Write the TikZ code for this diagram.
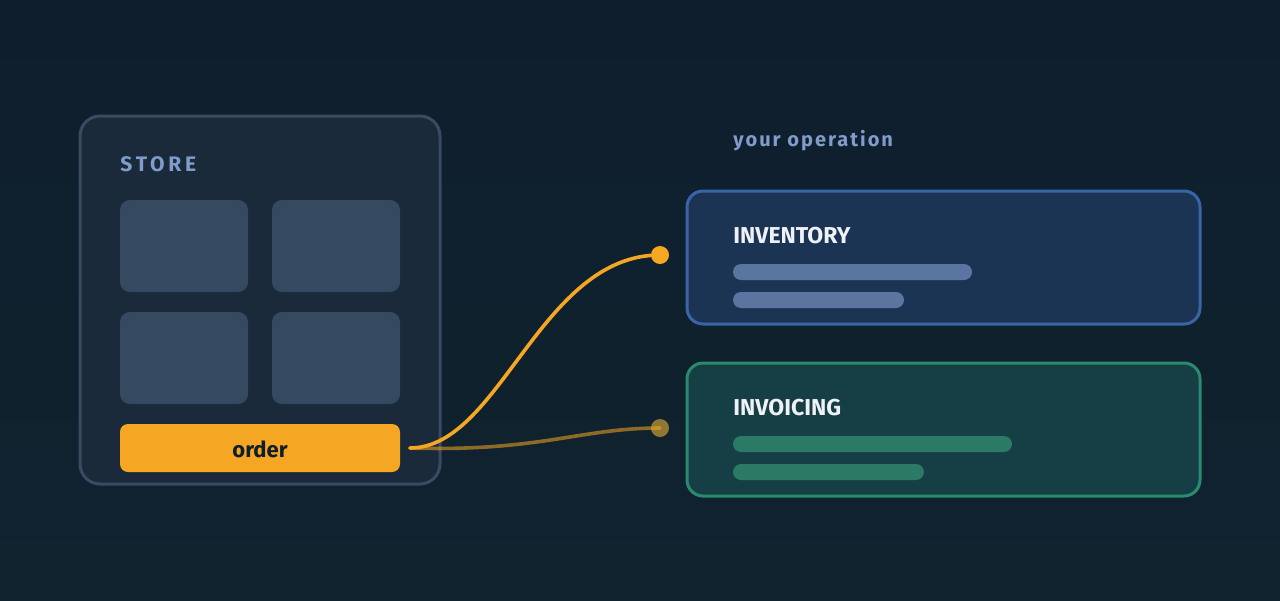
\documentclass[tikz,border=0pt]{standalone}
\usepackage{fontspec}
\setmainfont{Fira Sans}
\newfontfamily\spaced[LetterSpace=18]{Fira Sans}
\newfontfamily\spacedb[LetterSpace=10]{Fira Sans}
\usetikzlibrary{shadings}
\definecolor{bgA}{HTML}{0F1E2D}
\definecolor{bgB}{HTML}{10232F}
\definecolor{storeF}{HTML}{1B2A3A}
\definecolor{storeD}{HTML}{3A4A62}
\definecolor{tile}{HTML}{354960}
\definecolor{orng}{HTML}{F5A623}
\definecolor{invF}{HTML}{1C3454}
\definecolor{invD}{HTML}{3A64A8}
\definecolor{invBar}{HTML}{5A76A0}
\definecolor{bilF}{HTML}{163F45}
\definecolor{bilD}{HTML}{2A8A6E}
\definecolor{bilBar}{HTML}{2A7A66}
\definecolor{lbl}{HTML}{7F9CCB}
\definecolor{ttl}{HTML}{EEF2F6}
\tikzset{
 tilebox/.style={fill=tile,rounded corners=5pt,draw=none},
 panel/.style={rounded corners=8pt,line width=1.5pt},
 bar/.style={rounded corners=4pt,draw=none},
 ttlt/.style={anchor=west,text=ttl,font=\bfseries\fontsize{11.5}{13}\selectfont,inner sep=0},
 dot/.style={circle,inner sep=0,minimum size=9pt},
}
\begin{document}
\begin{tikzpicture}[x=0.5pt,y=-0.5pt]
\shade[top color=bgA,bottom color=bgB] (0,0) rectangle (1280,600);
\useasboundingbox (0,0) rectangle (1280,600);
% store
\draw[panel,fill=storeF,draw=storeD,rounded corners=10pt] (80,116) rectangle (440,484);
\node[anchor=west,text=lbl,inner sep=0,font=\spaced\bfseries\fontsize{10.5}{12}\selectfont] (store) at (120,164) {STORE};
\fill[tilebox] (120,200) rectangle (248,292);
\fill[tilebox] (272,200) rectangle (400,292);
\fill[tilebox] (120,312) rectangle (248,404);
\fill[tilebox] (272,312) rectangle (400,404);
\fill[orng,rounded corners=4pt] (120,424) rectangle (400,472);
\node[text=bgA,font=\bfseries\fontsize{11}{12}\selectfont] (order) at (260,449) {order};
\coordinate (src) at (410,448);
% operation
\node[anchor=west,text=lbl,inner sep=0,font=\spacedb\bfseries\fontsize{10}{12}\selectfont] (op) at (733,141) {your operation};
\draw[panel,fill=invF,draw=invD] (687,191) rectangle (1200,324);
\node[ttlt] (inv) at (733,236) {INVENTORY};
\fill[bar,invBar] (733,264) rectangle (972,280);
\fill[bar,invBar] (733,292) rectangle (904,308);
\draw[panel,fill=bilF,draw=bilD] (687,363) rectangle (1200,496);
\node[ttlt] (bil) at (733,408) {INVOICING};
\fill[bar,bilBar] (733,436) rectangle (1012,452);
\fill[bar,bilBar] (733,464) rectangle (924,480);
% connectors
\node[dot,fill=orng] (d1) at (660,255) {};
\node[dot,fill=orng!55!bilF] (d2) at (660,428) {};
\draw[orng,line width=1.8pt,line cap=round] (src) .. controls (500,448) and (540,255) .. (d1.center);
\draw[orng,opacity=0.55,line width=1.8pt,line cap=round] (src) .. controls (540,452) and (580,428) .. (d2.center);
\end{tikzpicture}
\end{document}
